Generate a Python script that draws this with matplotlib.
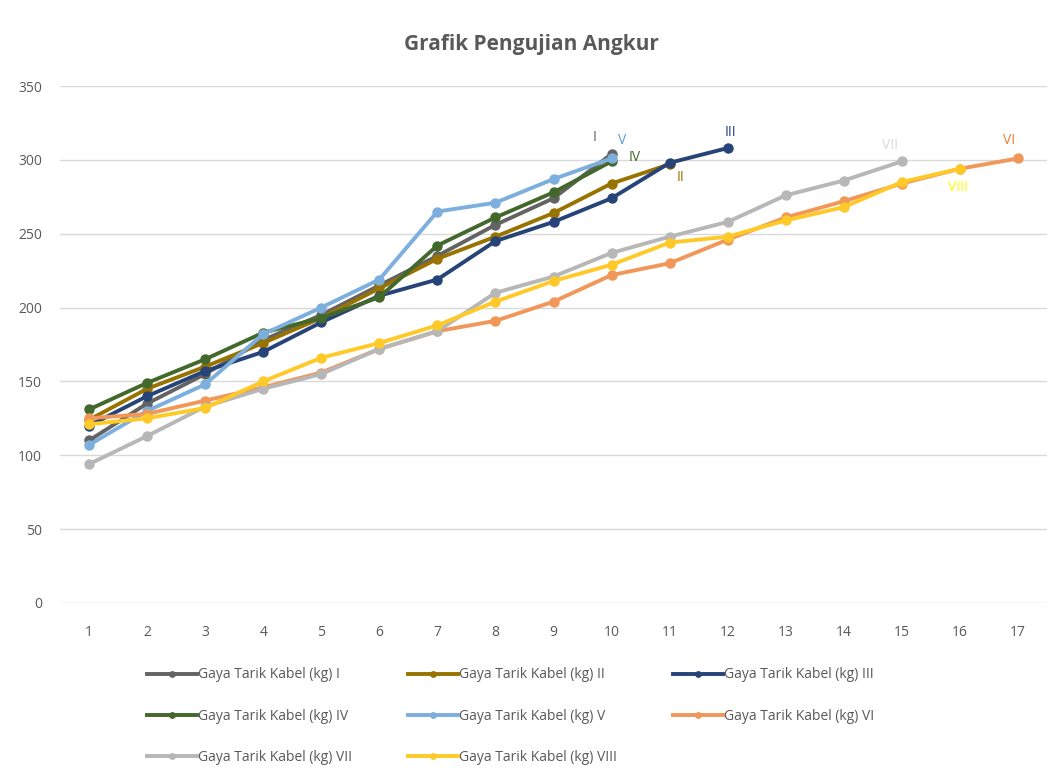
import numpy as np
import matplotlib.pyplot as plt

plt.rcParams['font.family'] = ['Open Sans', 'DejaVu Sans']

# data
s1 = [110, 135, 155, 178, 195, 215, 235, 256, 274, 304]
s2 = [124, 145, 160, 176, 193, 213, 233, 248, 264, 284, 297]
s3 = [120, 140, 157, 170, 190, 208, 219, 245, 258, 274, 298, 308]
s4 = [131, 149, 165, 183, 193, 207, 242, 261, 278, 299]
s5 = [107, 130, 148, 182, 200, 219, 265, 271, 287, 301]
s6 = [125, 128, 137, 146, 156, 172, 184, 191, 204, 222, 230, 246, 261, 272, 284, 294, 301]
s7 = [94, 113, 133, 145, 155, 172, 184, 210, 221, 237, 248, 258, 276, 286, 299]
s8 = [121, 125, 132, 150, 166, 176, 188, 204, 218, 229, 244, 248, 259, 268, 285, 294]

series = [s1, s2, s3, s4, s5, s6, s7, s8]
roman = ['I', 'II', 'III', 'IV', 'V', 'VI', 'VII', 'VIII']
colors = ['#636363', '#997300', '#264478', '#43682B', '#7CAFDD', '#F1975A', '#B7B7B7', '#FFCA28']
label_colors = ['#636363', '#997300', '#264478', '#43682B', '#5B9BD5', '#ED7D31', '#D9D9D9', '#FFFF00']
# pixel offsets of the end labels from the last point
offsets = [(-17, 16), (11, -13), (3, 16), (23, 4), (11, 18), (-9, 18), (-12, 16), (-2, -19)]

fig = plt.figure(figsize=(10.62, 7.75), dpi=100)
ax = fig.add_axes([0.0565, 0.222, 0.9294, 0.667])

lines = []
for i, s in enumerate(series):
    x = np.arange(1, len(s) + 1)
    ln, = ax.plot(x, s, color=colors[i], lw=2.8, marker='o', ms=6.5,
                  label='Gaya Tarik Kabel (kg) ' + roman[i])
    lines.append(ln)
    ax.annotate(roman[i], (x[-1], s[-1]), xytext=offsets[i], textcoords='offset pixels',
                ha='center', va='center', fontsize=10, color=label_colors[i])

ax.set_xlim(0.5, 17.5)
ax.set_ylim(0, 350)
ax.set_xticks(range(1, 18))
ax.set_yticks(range(0, 351, 50))
ax.grid(axis='y', color='#D9D9D9', lw=1)
ax.set_axisbelow(True)
for sp in ax.spines.values():
    sp.set_visible(False)
ax.tick_params(length=0, labelsize=10, labelcolor='#595959')
ax.tick_params(axis='y', pad=13)
ax.tick_params(axis='x', pad=16)

fig.suptitle('Grafik Pengujian Angkur', y=0.956, fontsize=15, fontweight='bold', color='#595959')

# legend filled row by row: I II III / IV V VI / VII VIII
order = [0, 3, 6, 1, 4, 7, 2, 5]
fig.legend([lines[k] for k in order], [lines[k].get_label() for k in order],
           loc='upper left', bbox_to_anchor=(0.133, 0.146), ncol=3, frameon=False,
           fontsize=10, handlelength=3.6, handletextpad=0.1, columnspacing=4.0,
           labelspacing=1.9, labelcolor='#595959', borderaxespad=0, markerscale=0.6)

fig.savefig('out.png', dpi=100, facecolor='white')
